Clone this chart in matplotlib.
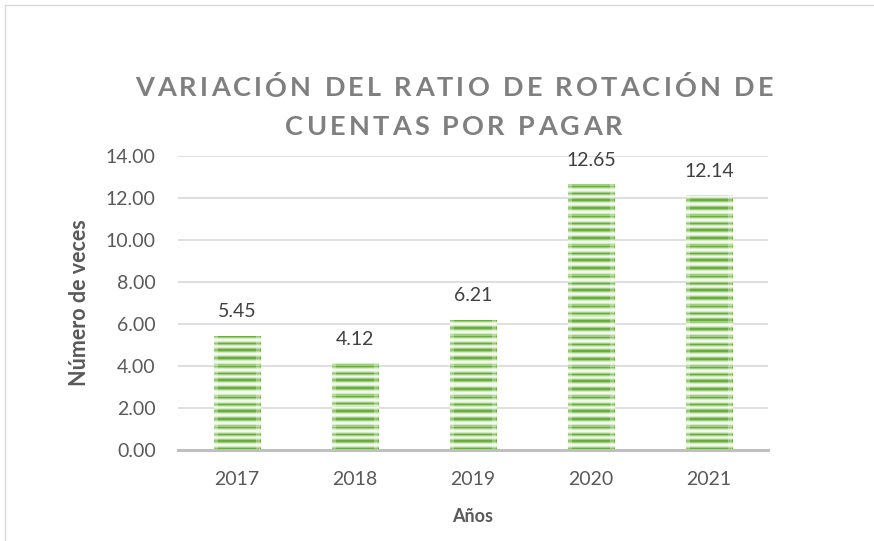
import numpy as np
import matplotlib
matplotlib.use("Agg")
import matplotlib.pyplot as plt
from matplotlib.colors import ListedColormap

# datos del gráfico
anios = ["2017", "2018", "2019", "2020", "2021"]
ratio = [5.45, 4.12, 6.21, 12.65, 12.14]
titulo = ["VARIACIÓN DEL RATIO DE ROTACIÓN DE", "CUENTAS POR PAGAR"]

plt.rcParams["font.family"] = ["Lato", "DejaVu Sans"]

W, H = 874, 541
fig = plt.figure(figsize=(W / 100, H / 100), dpi=100)
ax = fig.add_axes([178 / W, 1 - 450 / H, (768 - 178) / W, (450 - 156) / H])

x = np.arange(len(anios))
barras = ax.bar(x, ratio, width=0.39, color="none", edgecolor="none", zorder=2)

# textura de rayas horizontales verdes
patron = [0, 0, 1, 2, 3, 3, 2, 1, 0, 0, 1, 2, 3, 2, 1, 0, 1, 2, 3, 3, 2, 1, 0, 1, 1, 2, 3, 3, 2, 1]
cmap = ListedColormap(["#6AAB3F", "#9FCC80", "#D3EAC4", "#F1F8EC"])
for b in barras:
    x0, y0 = b.get_x(), b.get_y()
    w, h = b.get_width(), b.get_height()
    filas = int(h * 21)
    tex = np.array([patron[i % len(patron)] for i in range(filas)], dtype=float)
    img = np.tile(tex[:, None], (1, 12))
    im = ax.imshow(img, cmap=cmap, vmin=0, vmax=3, aspect="auto",
                   extent=[x0, x0 + w, y0, y0 + h], origin="lower",
                   interpolation="nearest", zorder=2)
    im.set_clip_path(b)
    # suavizado lateral
    for lado, a in [(x0, 1), (x0 + w, -1)]:
        ax.fill_between([lado, lado + a * w * 0.08], 0, h, color="white",
                        alpha=0.3, lw=0, zorder=3)

for xi, v in zip(x, ratio):
    ax.annotate(f"{v:.2f}", (xi, v), xytext=(0, 17), textcoords="offset points",
                ha="center", va="center", fontsize=14, color="#404040", zorder=4)

ax.set_xlim(-0.5, len(anios) - 0.5)
ax.set_ylim(0, 14)
ax.set_yticks(np.arange(0, 14.1, 2))
ax.set_yticklabels([f"{t:.2f}" for t in np.arange(0, 14.1, 2)])
ax.set_xticks(x)
ax.set_xticklabels(anios)
ax.tick_params(axis="both", length=0, labelsize=14, labelcolor="#595959")
ax.tick_params(axis="x", pad=15)
ax.tick_params(axis="y", pad=16)
ax.yaxis.grid(True, color="#D9D9D9", lw=1.2, zorder=0)
ax.set_axisbelow(True)
for s in ["top", "right", "left"]:
    ax.spines[s].set_visible(False)
ax.spines["bottom"].set_color("#BFBFBF")
ax.spines["bottom"].set_linewidth(2.2)
ax.spines["bottom"].set_zorder(5)

ax.set_ylabel("Número de veces", fontsize=15.5, fontweight="bold", color="#595959", va="center")
ax.yaxis.set_label_coords((79 - 178) / 590, 0.5)
ax.set_xlabel("Años", fontsize=13, fontweight="bold", color="#595959", va="center")
ax.xaxis.set_label_coords(0.5, (450 - 517) / 294)

# título con espaciado entre letras
fig.canvas.draw()
rend = fig.canvas.get_renderer()
track = 3.2
for linea, yc in zip(titulo, [88, 127]):
    anchos = []
    for ch in linea:
        t = fig.text(0, 0, ch if ch != " " else "n", fontsize=19.5, fontweight="bold")
        bb = t.get_window_extent(rend)
        anchos.append(bb.width * (0.45 if ch == " " else 1.0))
        t.remove()
    total = sum(anchos) + track * (len(linea) - 1)
    xp = 454 - total / 2
    for ch, wd in zip(linea, anchos):
        fig.text(xp / W, 1 - yc / H, ch, fontsize=19.5, fontweight="bold",
                 color="#7F7F7F", ha="left", va="center")
        xp += wd + track

# borde del área del gráfico
fig.add_artist(plt.Line2D([5 / W, 1], [1 - 5 / H, 1 - 5 / H], color="#D9D9D9", lw=1))
fig.add_artist(plt.Line2D([5 / W, 5 / W], [0, 1 - 5 / H], color="#D9D9D9", lw=1))

fig.savefig("out.png", dpi=100)
